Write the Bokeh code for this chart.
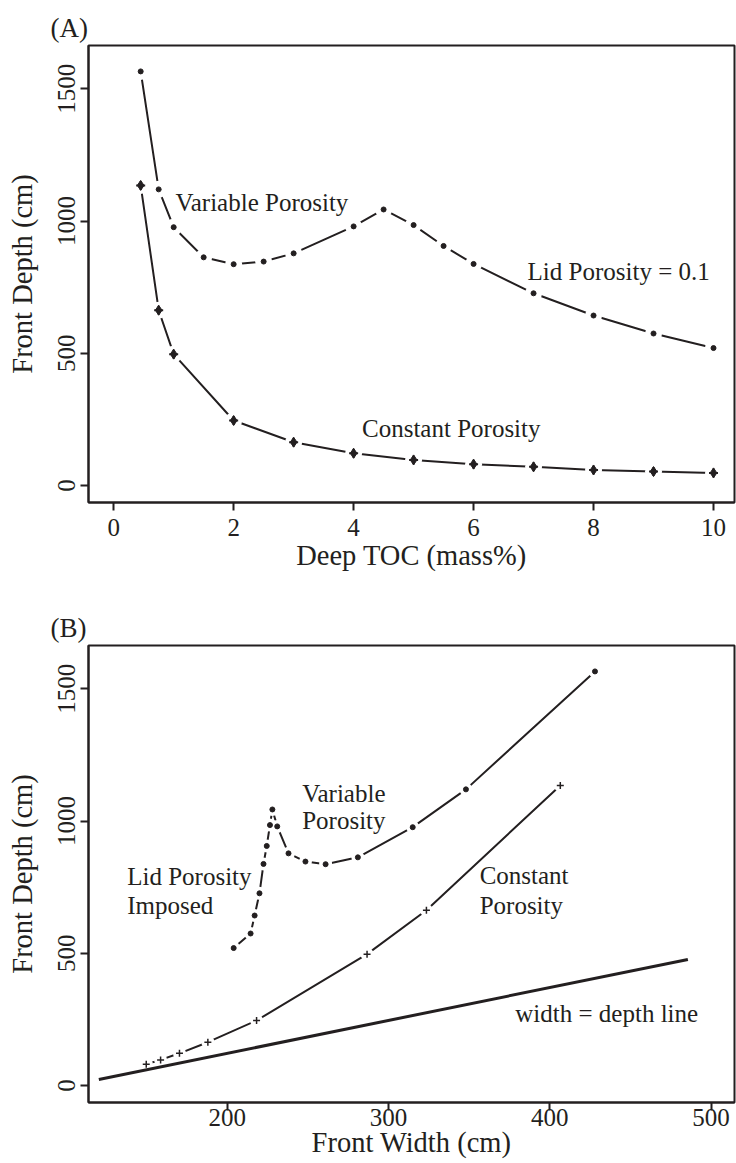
from bokeh.plotting import figure
from bokeh.layouts import column
from bokeh.models import FixedTicker, Label, Range1d, Title
from bokeh.embed import file_html
from bokeh.resources import INLINE

# ---- data ----
toc_var = [0.45, 0.75, 1, 1.5, 2, 2.5, 3, 4, 4.5, 5, 5.5, 6, 7, 8, 9, 10]
depth_var = [1566, 1120, 977, 863, 837, 847, 878, 980, 1044, 985, 906, 838, 727, 643, 575, 520]
width_var = [428, 348, 315, 281, 261, 248.5, 238, 231, 228, 226.5, 224.5, 222.5, 220, 217, 214.5, 204]

toc_const = [0.45, 0.75, 1, 2, 3, 4, 5, 6, 7, 8, 9, 10]
depth_const = [1135, 663, 497, 246, 164, 122, 97, 81, 71, 59, 53, 48]
width_const = [406.5, 323.5, 286.7, 218.2, 188, 170.4, 158.7, 149.8]
depth_const_b = depth_const[:len(width_const)]

line_width_x = [120.4, 485.6]
line_depth_y = [23, 477]

xticks_a = [0, 2, 4, 6, 8, 10]
xticks_b = [200, 300, 400, 500]
yticks = [0, 500, 1000, 1500]

FONT = "Liberation Serif"
INK = "#231f20"


def base_fig(height, xr, yr, xticks, xlabel, bottom, lab_standoff, title_standoff, panel):
    p = figure(width=736, height=height, x_range=Range1d(*xr), y_range=Range1d(*yr),
               output_backend="svg", toolbar_location=None,
               min_border_left=88, min_border_right=2, min_border_top=45,
               min_border_bottom=bottom)
    p.add_layout(Title(text=panel, align="left", offset=-38, standoff=6,
                       text_font=FONT, text_font_size="27px", text_font_style="normal",
                       text_color=INK), "above")
    p.grid.visible = False
    p.outline_line_color = INK
    p.outline_line_width = 2
    p.outline_line_alpha = 1
    p.background_fill_color = "white"
    p.border_fill_color = "white"
    p.xaxis.ticker = FixedTicker(ticks=xticks)
    p.yaxis.ticker = FixedTicker(ticks=yticks)
    p.xaxis.axis_label = xlabel
    p.yaxis.axis_label = "Front Depth (cm)"
    for ax in (p.xaxis, p.yaxis):
        ax.axis_line_color = INK
        ax.axis_line_width = 2
        ax.major_tick_line_color = INK
        ax.major_tick_line_width = 2
        ax.major_tick_out = 8
        ax.major_tick_in = 0
        ax.minor_tick_line_color = None
        ax.major_label_text_font = FONT
        ax.major_label_text_font_size = "25px"
        ax.major_label_text_color = INK
        ax.axis_label_text_font = FONT
        ax.axis_label_text_font_size = "28.5px"
        ax.axis_label_text_font_style = "normal"
        ax.axis_label_text_color = INK
    p.xaxis.major_label_standoff = lab_standoff
    p.xaxis.axis_label_standoff = title_standoff
    p.yaxis.major_label_orientation = "vertical"
    p.yaxis.major_label_standoff = 5
    p.yaxis.axis_label_standoff = 18
    return p


def add_label(p, x, y, text, size="25px", align="left"):
    p.add_layout(Label(x=x, y=y, text=text, text_font=FONT, text_font_size=size,
                       text_color=INK, text_align=align, text_baseline="middle"))


# ---------------- Panel A ----------------
pa = base_fig(600, (-0.42, 10.35), (-64, 1664), xticks_a, "Deep TOC (mass%)", 98, 8, 1, "(A)")

pa.line(toc_var, depth_var, line_color=INK, line_width=2)
pa.line(toc_const, depth_const, line_color=INK, line_width=2)
# gaps around the points (as in type="b")
pa.scatter(toc_var, depth_var, marker="circle", size=17, fill_color="white", line_color=None)
pa.scatter(toc_const, depth_const, marker="circle", size=17, fill_color="white", line_color=None)
pa.scatter(toc_var, depth_var, marker="circle", size=5, fill_color=INK, line_color=INK)
pa.scatter(toc_const, depth_const, marker="diamond", size=10, fill_color=INK, line_color=INK)
pa.scatter(toc_const, depth_const, marker="cross", size=9, line_color=INK, line_width=2)

add_label(pa, 1.03, 1069, "Variable Porosity")
add_label(pa, 6.9, 810, "Lid Porosity = 0.1")
add_label(pa, 4.14, 217, "Constant Porosity")

# ---------------- Panel B ----------------
pb = base_fig(563, (114, 514.5), (-64, 1664), xticks_b, "Front Width (cm)", 61, -2, -2, "(B)")

pb.line(width_var, depth_var, line_color=INK, line_width=2)
pb.line(width_const, depth_const_b, line_color=INK, line_width=2)
pb.scatter(width_var, depth_var, marker="circle", size=13, fill_color="white", line_color=None)
pb.scatter(width_const, depth_const_b, marker="circle", size=13, fill_color="white", line_color=None)
pb.line(line_width_x, line_depth_y, line_color=INK, line_width=3)
pb.scatter(width_var, depth_var, marker="circle", size=5, fill_color=INK, line_color=INK)
pb.scatter(width_const, depth_const_b, marker="cross", size=7, line_color=INK, line_width=1.5)

add_label(pb, 246.5, 1104, "Variable")
add_label(pb, 246.5, 1002, "Porosity")
add_label(pb, 138, 790, "Lid Porosity")
add_label(pb, 138, 681, "Imposed")
add_label(pb, 356.5, 794, "Constant")
add_label(pb, 356.5, 681, "Porosity")
add_label(pb, 378.6, 271, "width = depth line")

layout = column(pa, pb, spacing=0)
open("out.html", "w").write(file_html(layout, INLINE))
